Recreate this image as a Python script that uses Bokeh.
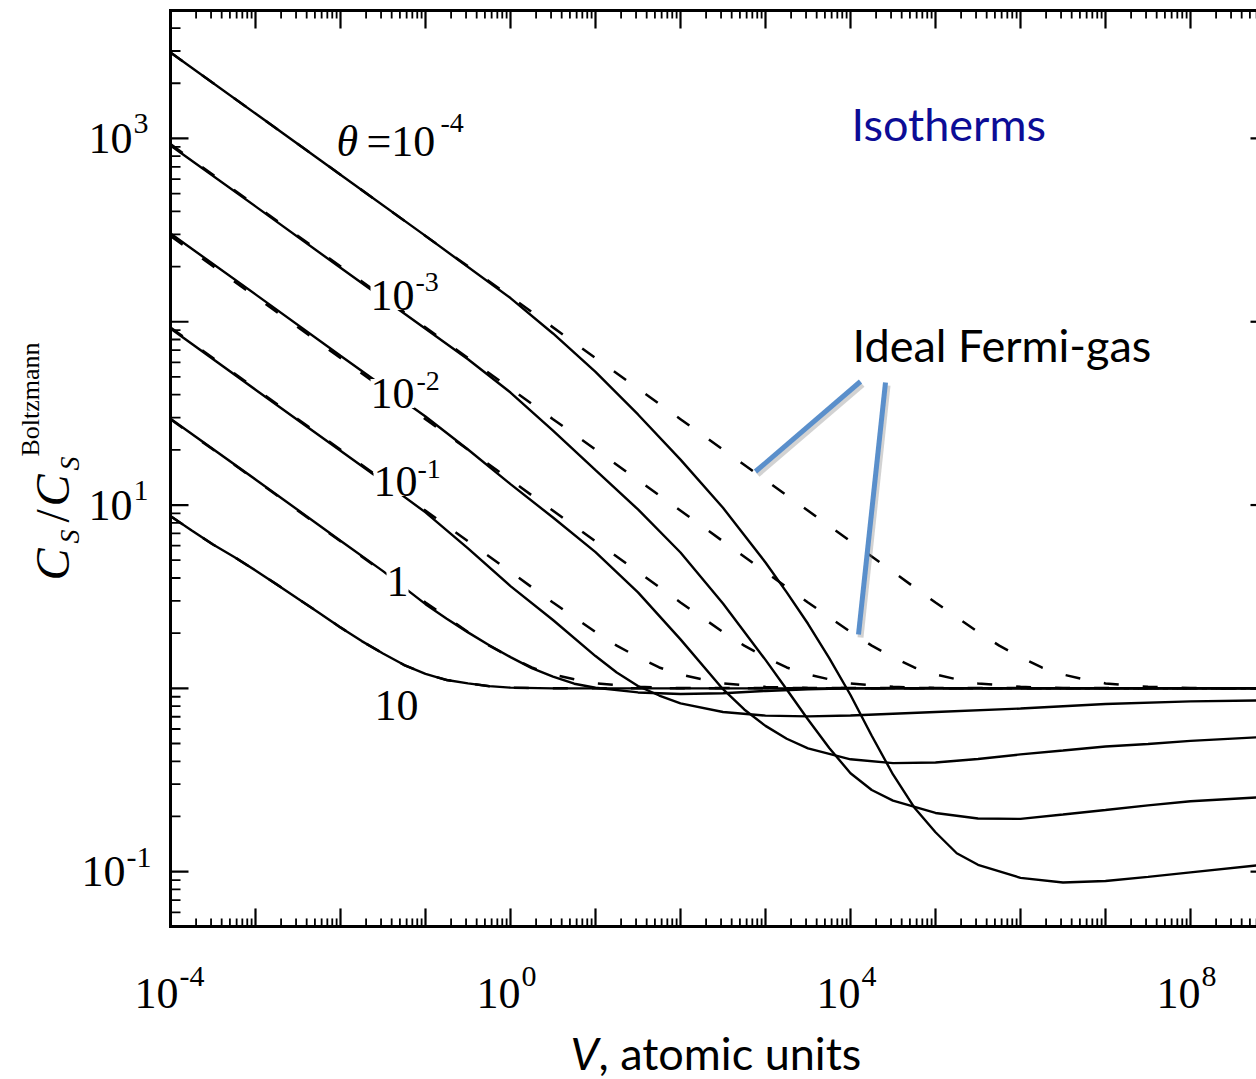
from math import log10, pi

from bokeh.embed import file_html
from bokeh.models import Label, Range1d
from bokeh.plotting import figure
from bokeh.resources import INLINE

# Isotherms of the sound-speed ratio C_S / C_S^Boltzmann versus volume V (atomic units).
# Solid: full model, dashed: ideal Fermi gas.  theta = 1e-4 ... 10.

theta_labels = ["-4", "-3", "-2", "-1", "1", "10"]

# theta = 1e-4
V_s0 = [1e-4, 1e-3, 1e-2, 1e-1, 1, 3.162, 10, 31.62, 100, 316.2, 1000, 1778, 3162, 5623,
        1e4, 1.778e4, 3.162e4, 5.623e4, 1e5, 1.778e5, 3.162e5, 1e6, 3.162e6, 1e7, 3.162e7, 1e8, 5.97e8]
R_s0 = [2940, 1367, 634, 294, 134.6, 86.3, 53.3, 31.2, 17.7, 9.66, 4.86, 3.34, 2.25, 1.46,
        0.92, 0.551, 0.339, 0.224, 0.164, 0.126, 0.109, 0.0925, 0.0873, 0.0889, 0.0936, 0.0991, 0.108]

# theta = 1e-3
V_s1 = [1e-4, 1e-3, 1e-2, 1e-1, 0.3162, 1, 3.162, 10, 31.62, 100, 316.2, 1000, 1778, 3162, 5623,
        1e4, 1.778e4, 3.162e4, 1e5, 3.162e5, 1e6, 3.162e6, 1e7, 3.162e7, 1e8, 5.97e8]
R_s1 = [916, 426, 197, 91.6, 62.4, 41.1, 25.5, 15.5, 9.46, 5.51, 2.90, 1.43, 0.986, 0.676, 0.473,
        0.344, 0.279, 0.244, 0.209, 0.195, 0.194, 0.205, 0.217, 0.230, 0.242, 0.254]

# theta = 1e-2
V_s2 = [1e-4, 1e-3, 1e-2, 0.1, 0.3162, 1, 3.162, 10, 31.62, 100, 316.2, 562.3, 1000, 1778, 3162,
        1e4, 3.162e4, 1e5, 3.162e5, 1e6, 3.162e6, 1e7, 3.162e7, 1e8, 5.97e8]
R_s2 = [303, 141, 65.3, 30.4, 20.1, 13.0, 8.55, 5.54, 3.34, 1.85, 0.989, 0.767, 0.624, 0.531, 0.470,
        0.410, 0.391, 0.394, 0.412, 0.436, 0.458, 0.482, 0.497, 0.517, 0.540]

# theta = 1e-1
V_s3 = [1e-4, 1e-3, 1e-2, 0.03162, 0.1, 0.3162, 1, 3.162, 10, 17.78, 31.62, 56.23, 100, 316.2,
        1000, 3162, 1e4, 1e5, 1e6, 1e7, 1e8, 5.97e8]
R_s3 = [91.8, 42.6, 19.8, 13.5, 9.12, 5.80, 3.61, 2.36, 1.50, 1.22, 1.03, 0.914, 0.828, 0.743,
        0.710, 0.703, 0.711, 0.743, 0.776, 0.822, 0.849, 0.859]

# theta = 1
V_s4 = [1e-4, 1e-3, 1e-2, 0.03162, 0.1, 0.1778, 0.3162, 0.5623, 1, 1.778, 3.162, 5.623, 10,
        31.62, 100, 316.2, 1000, 3162, 1e4, 5.97e8]
R_s4 = [29.6, 13.8, 6.39, 4.36, 2.88, 2.40, 2.02, 1.72, 1.48, 1.29, 1.16, 1.06, 1.008,
        0.950, 0.931, 0.940, 0.968, 0.988, 1.0, 1.0]

# theta = 10
V_s5 = [1e-4, 1.778e-4, 3.162e-4, 5.623e-4, 1e-3, 1.778e-3, 3.162e-3, 5.623e-3, 1e-2, 1.778e-2,
        3.162e-2, 5.623e-2, 0.1, 0.1778, 0.3162, 0.5623, 1, 3.162, 5.97e8]
R_s5 = [8.7, 7.26, 6.09, 5.21, 4.40, 3.69, 3.08, 2.58, 2.15, 1.81,
        1.55, 1.34, 1.20, 1.11, 1.064, 1.028, 1.009, 1.0, 1.0]

# ideal Fermi gas
V_d0 = [1e-4, 1e-3, 1e-2, 0.1, 1, 10, 100, 1000, 1e4, 3.162e4, 1e5, 3.162e5, 5.623e5, 1e6,
        1.778e6, 3.162e6, 5.623e6, 1e7, 3.162e7, 1e8, 5.97e8]
R_d0 = [2940, 1367, 634, 294, 137, 63.4, 29.4, 13.7, 6.34, 4.32, 2.94, 2.03, 1.71, 1.48,
        1.30, 1.19, 1.12, 1.064, 1.019, 1.004, 1.0]

V_d1 = [1e-4, 3.162e-4, 3.162e-3, 3.162e-2, 0.3162, 3.162, 31.62, 316.2, 1000, 3162, 1e4,
        1.778e4, 3.162e4, 5.623e4, 1e5, 1.778e5, 3.162e5, 1e6, 3.162e6, 5.97e8]
R_d1 = [931, 634, 294, 137, 63.4, 29.4, 13.7, 6.34, 4.32, 2.94, 2.03,
        1.71, 1.48, 1.30, 1.19, 1.12, 1.064, 1.019, 1.004, 1.0]

V_d2 = [1e-4, 1e-3, 1e-2, 0.1, 1, 10, 31.62, 100, 316.2, 562.3, 1000, 1778, 3162, 5623,
        1e4, 3.162e4, 1e5, 5.97e8]
R_d2 = [294, 137, 63.4, 29.4, 13.7, 6.34, 4.32, 2.94, 2.03, 1.71, 1.48, 1.30, 1.19, 1.12,
        1.064, 1.019, 1.004, 1.0]

V_d3 = [1e-4, 3.162e-4, 3.162e-3, 3.162e-2, 0.3162, 1, 3.162, 10, 17.78, 31.62, 56.23, 100,
        177.8, 316.2, 1000, 3162, 5.97e8]
R_d3 = [93.1, 63.4, 29.4, 13.7, 6.34, 4.32, 2.94, 2.03, 1.71, 1.48, 1.30, 1.19,
        1.12, 1.064, 1.019, 1.004, 1.0]

V_d4 = [1e-4, 1e-3, 1e-2, 3.162e-2, 0.1, 0.3162, 0.5623, 1, 1.778, 3.162, 5.623, 10, 31.62,
        100, 5.97e8]
R_d4 = [29.4, 13.7, 6.34, 4.32, 2.94, 2.03, 1.71, 1.48, 1.30, 1.19, 1.12, 1.064, 1.019,
        1.004, 1.0]

V_d5 = V_s5
R_d5 = R_s5

x_tick_powers = [-4, 0, 4, 8]      # labelled decades on the V axis
y_tick_powers = [3, 1, -1]         # labelled decades on the ratio axis

# ---------------------------------------------------------------- geometry
W, H = 1256, 1079
PXX, PXY = 85.0, 183.3            # pixels per decade along x and y
BOX_X0 = -4.0                     # left edge of the plot box (log10 V)
BOX_Y0, BOX_Y1 = -1.299, 3.698    # bottom / top of the plot box (log10 ratio)
X_LO = BOX_X0 - 170 / PXX
X_HI = X_LO + W / PXX
Y_HI = BOX_Y1 + 10 / PXY
Y_LO = Y_HI - H / PXY

p = figure(width=W, height=H, x_axis_type="log", y_axis_type="log",
           x_range=Range1d(10 ** X_LO, 10 ** X_HI), y_range=Range1d(10 ** Y_LO, 10 ** Y_HI),
           x_axis_location=None, y_axis_location=None,
           output_backend="svg", toolbar_location=None,
           min_border=0)
p.outline_line_color = None
p.grid.visible = False
p.background_fill_color = "white"
p.border_fill_color = "white"

# ---------------------------------------------------------------- box and log ticks
xl, xr = 10 ** BOX_X0, 10 ** X_HI
yb, yt = 10 ** BOX_Y0, 10 ** BOX_Y1

x_major = [10.0 ** k for k in range(-4, 9)]
x_minor = [m * 10.0 ** k for k in range(-4, 9) for m in range(2, 10)]
y_major = [10.0 ** k for k in range(-1, 4)]
y_minor = [m * 10.0 ** k for k in range(-2, 4) for m in range(2, 10)
           if BOX_Y0 < log10(m * 10.0 ** k) < BOX_Y1]


def ticks(values, length_px, side):
    x0, y0, x1, y1 = [], [], [], []
    for v in values:
        if side == "bottom":
            x0.append(v); x1.append(v); y0.append(yb); y1.append(10 ** (BOX_Y0 + length_px / PXY))
        elif side == "top":
            x0.append(v); x1.append(v); y0.append(yt); y1.append(10 ** (BOX_Y1 - length_px / PXY))
        elif side == "left":
            y0.append(v); y1.append(v); x0.append(xl); x1.append(10 ** (BOX_X0 + length_px / PXX))
        else:
            y0.append(v); y1.append(v); x0.append(xr); x1.append(10 ** (X_HI - length_px / PXX))
    return dict(x0=x0, y0=y0, x1=x1, y1=y1)


for vals, length, side, lw in [(x_major, 18, "bottom", 2.2), (x_minor, 8, "bottom", 1.8),
                               (x_major, 18, "top", 2.2), (x_minor, 8, "top", 1.8),
                               (y_major, 18, "left", 2.2), (y_minor, 10, "left", 1.8),
                               (y_major, 6, "right", 2.2)]:
    p.segment(line_color="black", line_width=lw, **ticks(vals, length, side))

p.multi_line(xs=[[xr, xl, xl, xr]], ys=[[yt, yt, yb, yb]], line_color="black", line_width=3,
             line_join="miter")

# ---------------------------------------------------------------- curves
dashed = [(V_d0, R_d0), (V_d1, R_d1), (V_d2, R_d2), (V_d3, R_d3), (V_d4, R_d4), (V_d5, R_d5)]
solid = [(V_s0, R_s0), (V_s1, R_s1), (V_s2, R_s2), (V_s3, R_s3), (V_s4, R_s4), (V_s5, R_s5)]
for V, R in dashed:
    p.line(V, R, line_color="black", line_width=2.5, line_dash="15 24")
for V, R in solid:
    p.line(V, R, line_color="black", line_width=2.4)


# ---------------------------------------------------------------- text helpers
BASELINE_SHIFT = 0.385   # em offset between the requested and the drawn alphabetic baseline


def to_data(xp, yp):
    """Canvas pixel position -> data coordinates (the frame fills the canvas)."""
    return 10 ** (X_LO + xp / PXX), 10 ** (Y_HI - yp / PXY)


def put(text, xp, yp, size, font="Liberation Serif", style="normal", align="left",
        color="black", rotated=False, bg=None):
    if rotated:
        xp -= BASELINE_SHIFT * size
    else:
        yp -= BASELINE_SHIFT * size
    x, y = to_data(xp, yp)
    p.add_layout(Label(x=x, y=y, text=text, text_font=font, text_font_size=f"{size}px",
                       text_font_style=style, text_align=align, text_baseline="alphabetic",
                       text_color=color, angle=pi / 2 if rotated else 0.0,
                       background_fill_color=bg))


# tick labels 10^n
for k in x_tick_powers:
    xp = (k - X_LO) * PXX
    junction = xp + (8 if k < 0 else 10)
    put("10", junction, 1010, 44, align="right")
    put(str(k), junction + 1, 988, 30)

for k in y_tick_powers:
    yp = (Y_HI - k) * PXY
    junction = 125 if k < 0 else 132
    put("10", junction, yp + 17, 44, align="right")
    put(str(k), junction + 1, yp - 3, 30)

# isotherm labels
put("\u03b8", 336, 158, 44, style="italic")
put("=10", 366, 158, 44)
put(theta_labels[0], 440, 133, 28)
put("10", 370, 312, 44, bg="white")
put(theta_labels[1], 415, 292, 28)
put("10", 370, 410, 44, bg="white")
put(theta_labels[2], 416, 391, 28)
put("10", 373, 498, 44, bg="white")
put(theta_labels[3], 417, 479, 28)
put(theta_labels[4], 386, 598, 44, bg="white")
put(theta_labels[5], 374, 722, 44)

# annotations
put("Isotherms", 851, 141, 45, font="Lato", color="#0c0c96")
put("Ideal Fermi-gas", 852, 362, 45, font="Lato")

pointers = [((860, 381), (755, 471)), ((885, 382), (858, 634))]
for (xa, ya), (xb, yb_) in pointers:
    x0, y0 = to_data(xa + 2, ya + 3)
    x1, y1 = to_data(xb + 2, yb_ + 3)
    p.segment(x0=[x0], y0=[y0], x1=[x1], y1=[y1], line_color="#7f7f7f", line_alpha=0.35,
              line_width=6)
    x0, y0 = to_data(xa, ya)
    x1, y1 = to_data(xb, yb_)
    p.segment(x0=[x0], y0=[y0], x1=[x1], y1=[y1], line_color="#5a8fcb", line_width=5)

# axis titles
put("V", 570, 1070, 45, font="Lato", style="italic")
put(", atomic units", 598, 1070, 45, font="Lato")

put("C", 70, 580, 48, style="italic", rotated=True)
put("S", 80, 543, 28, style="italic", rotated=True)
put("/", 70, 522, 48, rotated=True)
put("C", 70, 506, 48, style="italic", rotated=True)
put("S", 80, 470, 28, style="italic", rotated=True)
put("Boltzmann", 40, 456, 26, rotated=True)

open("out.html", "w").write(file_html(p, INLINE))
